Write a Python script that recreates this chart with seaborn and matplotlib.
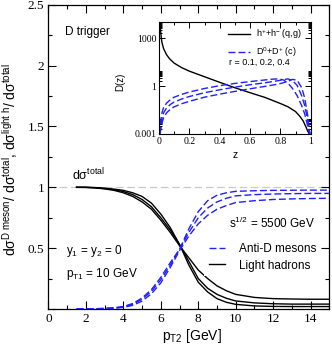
import numpy as np
import pandas as pd
import matplotlib
matplotlib.use("Agg")
import matplotlib.pyplot as plt
import seaborn as sns
from matplotlib.ticker import MultipleLocator, FixedLocator, FixedFormatter, NullFormatter
from matplotlib.lines import Line2D

# ---------------- main panel data ----------------
pt2 = [1.5, 2, 2.5, 3, 3.5, 4, 4.5, 5, 5.5, 6, 6.5, 7, 7.5, 8, 8.5, 9, 9.5, 10, 11, 12, 13, 14, 15]

light_1 = [1.0, 1.0, 0.998, 0.993, 0.985, 0.975, 0.955, 0.925, 0.87, 0.78, 0.67, 0.53, 0.36, 0.22, 0.14, 0.085, 0.055, 0.038, 0.025, 0.021, 0.02, 0.02, 0.02]
light_2 = [1.0, 1.0, 0.997, 0.99, 0.98, 0.965, 0.94, 0.9, 0.84, 0.75, 0.65, 0.53, 0.39, 0.25, 0.17, 0.12, 0.088, 0.066, 0.05, 0.043, 0.04, 0.04, 0.04]
light_3 = [1.0, 0.999, 0.995, 0.987, 0.975, 0.955, 0.925, 0.88, 0.82, 0.73, 0.63, 0.52, 0.42, 0.32, 0.25, 0.19, 0.15, 0.12, 0.095, 0.085, 0.082, 0.08, 0.08]

antiD_1 = [0.0, 0.001, 0.002, 0.005, 0.01, 0.02, 0.045, 0.09, 0.16, 0.26, 0.38, 0.49, 0.66, 0.8, 0.89, 0.935, 0.955, 0.967, 0.972, 0.975, 0.976, 0.977, 0.977]
antiD_2 = [0.0, 0.001, 0.002, 0.004, 0.008, 0.017, 0.038, 0.08, 0.145, 0.24, 0.36, 0.49, 0.63, 0.75, 0.83, 0.88, 0.91, 0.93, 0.94, 0.945, 0.948, 0.95, 0.95]
antiD_3 = [0.0, 0.0, 0.001, 0.003, 0.006, 0.013, 0.03, 0.065, 0.125, 0.215, 0.34, 0.48, 0.6, 0.7, 0.77, 0.82, 0.85, 0.875, 0.89, 0.9, 0.905, 0.908, 0.91]

# ---------------- inset data ----------------
z_h = [0.004, 0.006, 0.01, 0.015, 0.02, 0.03, 0.05, 0.07, 0.1, 0.15, 0.2, 0.3, 0.4, 0.5, 0.6, 0.7, 0.8, 0.85, 0.9, 0.93, 0.95, 0.97, 0.98, 0.99]
D_h = [2e4, 8000, 3000, 1000, 500, 220, 90, 50, 27, 14, 8.5, 3.8, 1.7, 0.78, 0.38, 0.19, 0.08, 0.05, 0.025, 0.012, 0.0065, 0.0025, 0.0015, 0.001]

z_c = [0.005, 0.01, 0.02, 0.03, 0.05, 0.075, 0.1, 0.15, 0.2, 0.3, 0.4, 0.5, 0.6, 0.7, 0.75, 0.79, 0.82, 0.85, 0.88, 0.91, 0.94, 0.96, 0.98, 0.99, 0.995]
D_c_1 = [0.001, 0.006, 0.022, 0.045, 0.085, 0.14, 0.2, 0.3, 0.42, 0.7, 1.05, 1.45, 1.9, 2.4, 2.7, 2.8, 2.4, 1.5, 0.7, 0.25, 0.06, 0.018, 0.003, 0.0012, 0.001]
D_c_2 = [0.001, 0.003, 0.01, 0.021, 0.042, 0.07, 0.1, 0.155, 0.22, 0.38, 0.58, 0.85, 1.2, 1.6, 1.9, 2.2, 2.5, 2.8, 2.2, 1.1, 0.25, 0.06, 0.007, 0.0016, 0.001]
D_c_3 = [0.001, 0.0015, 0.005, 0.01, 0.021, 0.035, 0.05, 0.078, 0.11, 0.2, 0.31, 0.46, 0.67, 0.95, 1.15, 1.35, 1.6, 2.0, 2.6, 2.3, 0.8, 0.18, 0.014, 0.002, 0.001]

x_ticks = [0, 2, 4, 6, 8, 10, 12, 14]
y_ticks = [0, 0.5, 1, 1.5, 2, 2.5]
y_tick_labels = ["", "0.5", "1", "1.5", "2", "2.5"]
z_ticks = [0, 0.2, 0.4, 0.6, 0.8, 1]
z_tick_labels = ["0", "0.2", "0.4", "0.6", "0.8", "1"]
D_ticks = [0.001, 1, 1000]
D_tick_labels = ["0.001", "1", "1000"]

# ---------------- style ----------------
plt.rcParams["font.family"] = ["Liberation Sans", "DejaVu Sans"]
plt.rcParams["mathtext.fontset"] = "custom"
plt.rcParams["mathtext.rm"] = "Liberation Sans"
plt.rcParams["mathtext.it"] = "Liberation Sans:italic"
plt.rcParams["mathtext.bf"] = "Liberation Sans:bold"

BLUE = "#1f1fff"
DASH = (0, (5, 2.2))

fig = plt.figure(figsize=(3.32, 3.46), dpi=100)
ax = fig.add_axes([0.146, 0.107, 0.846, 0.879])

# reference line at 1
ax.axhline(1.0, color="#c8c8c8", lw=0.9, linestyle=(0, (6, 3)), zorder=1)

for ys in (light_1, light_2, light_3):
    df = pd.DataFrame({"pt2": pt2, "r": ys})
    sns.lineplot(data=df, x="pt2", y="r", ax=ax, color="black", lw=1.0,
                 estimator=None, sort=False, zorder=3)
for ys in (antiD_1, antiD_2, antiD_3):
    df = pd.DataFrame({"pt2": pt2, "r": ys})
    sns.lineplot(data=df, x="pt2", y="r", ax=ax, color=BLUE, lw=1.0,
                 linestyle=DASH, estimator=None, sort=False, zorder=3)

ax.set_xlim(0, 15)
ax.set_ylim(0, 2.5)
ax.xaxis.set_major_locator(FixedLocator(x_ticks))
ax.xaxis.set_minor_locator(MultipleLocator(1))
ax.yaxis.set_major_locator(FixedLocator(y_ticks))
ax.yaxis.set_major_formatter(FixedFormatter(y_tick_labels))
ax.yaxis.set_minor_locator(MultipleLocator(0.25))
ax.tick_params(which="both", direction="in", top=True, right=True, width=0.8)
ax.tick_params(which="major", length=5.5)
ax.tick_params(which="minor", length=3)
ax.tick_params(axis="x", labelsize=9.5, labelfontfamily="Liberation Serif", pad=3)
ax.tick_params(axis="y", labelsize=9.5, labelfontfamily="Liberation Serif", pad=3)
for s in ax.spines.values():
    s.set_linewidth(0.9)

ax.set_xlabel(r"p$_{\mathrm{T2}}$ [GeV]", fontsize=10)
ax.xaxis.set_label_coords(0.51, -0.06)
ax.set_ylabel(r"dσ$^{\mathrm{D\ meson}}$/ dσ$^{\mathrm{total}}$, dσ$^{\mathrm{light\ h}}$/ dσ$^{\mathrm{total}}$",
              fontsize=10)
ax.yaxis.set_label_coords(-0.10, 0.49)

ax.text(0.88, 2.28, "D trigger", fontsize=8.5, va="center")
ax.text(1.25, 1.06, r"dσ$^{\mathrm{total}}$", fontsize=9, va="baseline")
ax.text(0.92, 0.455, r"y$_1$ = y$_2$ = 0", fontsize=8.5, va="baseline")
ax.text(0.92, 0.263, r"p$_{\mathrm{T1}}$ = 10 GeV", fontsize=8.5, va="baseline")
ax.text(9.63, 0.663, r"s$^{1/2}$ = 5500 GeV", fontsize=8.5, va="baseline")

handles = [Line2D([], [], color=BLUE, lw=1.0, linestyle=DASH),
           Line2D([], [], color="black", lw=1.0)]
leg = ax.legend(handles, ["Anti-D mesons", "Light hadrons"], loc="upper left",
                bbox_to_anchor=(8.33, 0.578), bbox_transform=ax.transData,
                fontsize=8.5, frameon=True, framealpha=1.0, facecolor="white",
                edgecolor="none", fancybox=False, handlelength=1.35,
                handletextpad=1.2, labelspacing=0.35, borderpad=0.4, borderaxespad=0)

# ---------------- inset ----------------
axi = fig.add_axes([0.479, 0.613, 0.457, 0.323])
axi.set_facecolor("white")
df = pd.DataFrame({"z": z_h, "D": D_h})
sns.lineplot(data=df, x="z", y="D", ax=axi, color="black", lw=1.0, estimator=None, sort=False)
for ys in (D_c_1, D_c_2, D_c_3):
    df = pd.DataFrame({"z": z_c, "D": ys})
    sns.lineplot(data=df, x="z", y="D", ax=axi, color=BLUE, lw=1.0, linestyle=DASH,
                 estimator=None, sort=False)
axi.set_yscale("log")
axi.set_xlim(0, 1)
axi.set_ylim(1e-3, 1e4)
axi.xaxis.set_major_locator(FixedLocator(z_ticks))
axi.xaxis.set_major_formatter(FixedFormatter(z_tick_labels))
axi.xaxis.set_minor_locator(MultipleLocator(0.1))
axi.yaxis.set_major_locator(FixedLocator(D_ticks))
axi.yaxis.set_major_formatter(FixedFormatter(D_tick_labels))
minor_D = [m * 10.0 ** k for k in (-3, 0, 3) for m in range(2, 10)]
axi.yaxis.set_minor_locator(FixedLocator(minor_D))
axi.yaxis.set_minor_formatter(NullFormatter())
axi.tick_params(which="both", direction="in", top=True, right=True, width=0.7)
axi.tick_params(which="major", length=4)
axi.tick_params(which="minor", length=2.2)
axi.tick_params(axis="both", labelsize=7, labelfontfamily="Liberation Serif", pad=2)
for s in axi.spines.values():
    s.set_linewidth(0.8)
axi.set_xlabel("z", fontsize=7.5)
axi.xaxis.set_label_coords(0.5, -0.14)
axi.set_ylabel("D(z)", fontsize=7)
axi.yaxis.set_label_coords(-0.225, 0.47)

ih = [Line2D([], [], color="black", lw=1.0),
      Line2D([], [], color=BLUE, lw=1.0, linestyle=DASH)]
axi.legend(ih, [r"h$^{+}$+h$^{-}$ (q,g)", r"D$^{0}$+D$^{+}$ (c)"], loc="upper left",
           bbox_to_anchor=(0.43, 0.985), fontsize=6.5, frameon=False,
           handlelength=2.4, handletextpad=0.7, labelspacing=0.45, borderpad=0.4,
           borderaxespad=0)
axi.text(0.46, 0.64, "r = 0.1, 0.2, 0.4", transform=axi.transAxes, fontsize=6.5, va="center")

fig.savefig("out.png", dpi=100)
